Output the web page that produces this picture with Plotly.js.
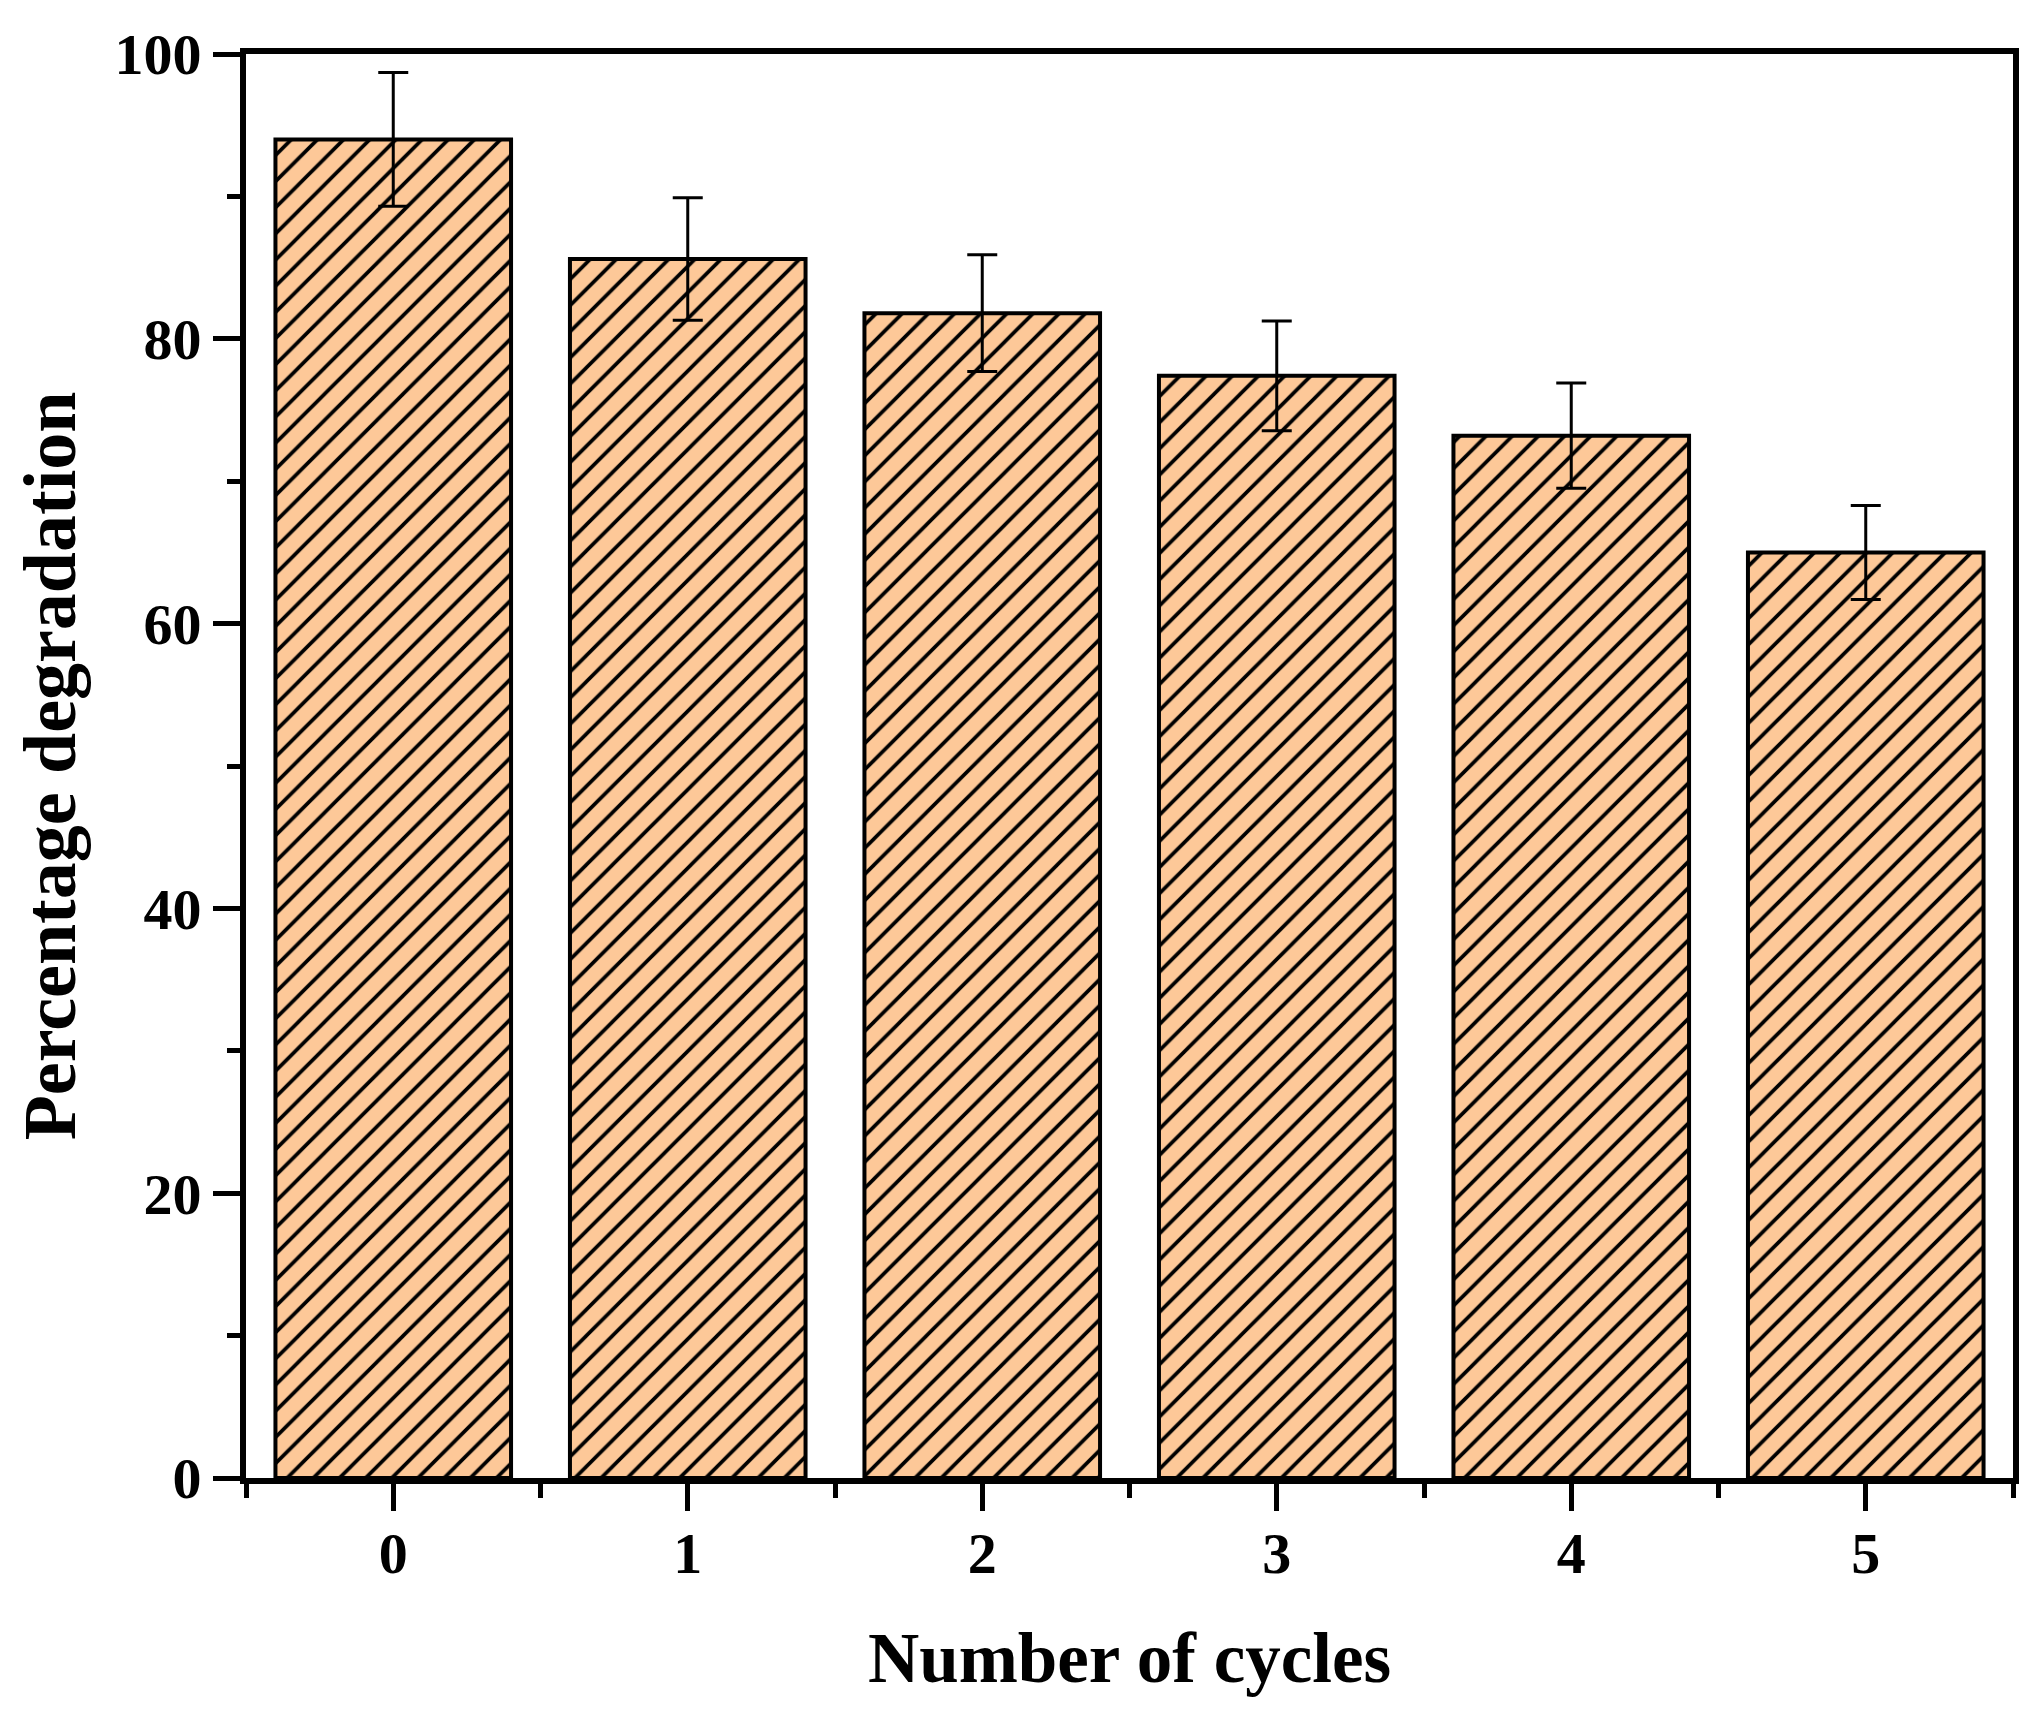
<!DOCTYPE html>
<html>
<head>
<meta charset="utf-8">
<script src="https://cdn.plot.ly/plotly-3.0.1.min.js"></script>
<style>
  html, body { margin: 0; padding: 0; background: #ffffff; }
  #chart { width: 2037px; height: 1724px; }
</style>
</head>
<body>
<div id="chart"></div>
<script>
const cycles = [0, 1, 2, 3, 4, 5];
const tickLabels = ['0', '1', '2', '3', '4', '5'];
const degradation = [94.0, 85.6, 81.8, 77.4, 73.2, 65.0];
const errors = [4.7, 4.3, 4.1, 3.85, 3.7, 3.3];

const peach = '#FDC898';
const fontFamily = '"Liberation Serif", "Times New Roman", serif';

const trace = {
  type: 'bar',
  x: cycles,
  y: degradation,
  width: 0.8,
  marker: {
    color: peach,
    line: { color: '#000000', width: 4 },
    pattern: {
      shape: '/',
      size: 18.5,
      solidity: 0.2,
      fgcolor: '#000000',
      bgcolor: peach,
      fillmode: 'replace'
    }
  },
  error_y: {
    type: 'data',
    array: errors,
    visible: true,
    color: '#000000',
    thickness: 3,
    width: 15
  },
  hoverinfo: 'skip'
};

const layout = {
  width: 2037,
  height: 1724,
  paper_bgcolor: '#ffffff',
  plot_bgcolor: '#ffffff',
  showlegend: false,
  margin: { l: 246, r: 24, t: 54, b: 246, pad: 0 },
  font: { family: fontFamily, color: '#000000' },
  xaxis: {
    type: 'linear',
    range: [-0.5, 5.5],
    tickmode: 'array',
    tickvals: cycles,
    ticktext: tickLabels,
    ticks: 'outside',
    ticklen: 27,
    tickwidth: 5,
    tickcolor: '#000000',
    ticklabelstandoff: -8,
    minor: { ticks: 'outside', dtick: 0.5, tick0: -0.5, ticklen: 14, tickwidth: 5, tickcolor: '#000000', showgrid: false },
    showline: true,
    linewidth: 6,
    linecolor: '#000000',
    mirror: true,
    showgrid: false,
    zeroline: false,
    tickfont: { family: fontFamily, size: 58, color: '#000000', weight: 'bold' },
    title: {
      text: '<b>Number of cycles</b>',
      font: { family: fontFamily, size: 71, color: '#000000' },
      standoff: 50
    }
  },
  yaxis: {
    range: [0, 100],
    tick0: 0,
    dtick: 20,
    ticks: 'outside',
    ticklen: 27,
    tickwidth: 5,
    tickcolor: '#000000',
    minor: { ticks: 'outside', dtick: 10, ticklen: 13, tickwidth: 5, tickcolor: '#000000', showgrid: false },
    showline: true,
    linewidth: 6,
    linecolor: '#000000',
    mirror: true,
    showgrid: false,
    zeroline: false,
    tickfont: { family: fontFamily, size: 58, color: '#000000', weight: 'bold' },
    title: {
      text: '<b>Percentage degradation</b>',
      font: { family: fontFamily, size: 74, color: '#000000' },
      standoff: 17
    }
  }
};

Plotly.newPlot('chart', [trace], layout, { staticPlot: true, displayModeBar: false });
</script>
</body>
</html>
